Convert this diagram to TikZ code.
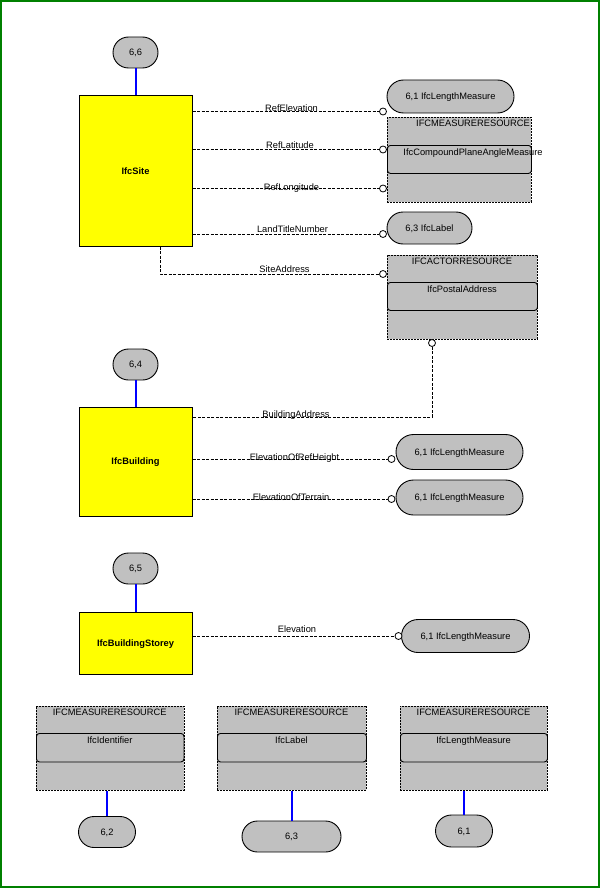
\documentclass[tikz,border=0pt]{standalone}
\usepackage{fontspec}
\usetikzlibrary{shapes.misc}
\setmainfont{Liberation Sans}
\definecolor{boxgray}{HTML}{C0C0C0}
\definecolor{entyellow}{HTML}{FFFF00}
\definecolor{linkblue}{HTML}{0000FF}
\definecolor{framegreen}{HTML}{008000}
\newcommand{\fsz}{\fontsize{9.3}{11}\selectfont}
\begin{document}
\begin{tikzpicture}[x=1pt,y=-1pt,
  every node/.style={inner sep=0pt, text height=6.7pt, text depth=0pt},
  ent/.style={draw=black, line width=1pt, fill=entyellow, font=\fsz\bfseries},
  oval/.style={rounded rectangle, draw=black, line width=0.9pt, fill=boxgray, font=\fsz},
  res/.style={draw=black, dash pattern=on 2pt off 1pt, line width=0.8pt, fill=boxgray, anchor=north west},
  inbox/.style={draw=black, line width=0.9pt, rounded corners=3pt, anchor=north west},
  txt/.style={font=\fsz},
  lbl/.style={font=\fsz},
  rel/.style={draw=black, line width=0.8pt, dash pattern=on 3pt off 1.5pt},
  link/.style={draw=linkblue, line width=2pt},
  endc/.style={circle, draw=black, fill=white, line width=0.8pt, minimum size=7pt, text height=0pt}
]
\useasboundingbox (0,0) rectangle (600,888);
\draw[framegreen, line width=2pt] (1,1) rectangle (599,887);

% entities
\node[ent, minimum width=113pt, minimum height=150pt] (site) at (135.5,171) {IfcSite};
\node[oval, minimum width=45pt, minimum height=31pt] (o66) at (135.5,52.5) {6,6};
\node[ent, minimum width=113pt, minimum height=109pt] (bld) at (135.5,461.5) {IfcBuilding};
\node[oval, minimum width=45pt, minimum height=31pt] (o64) at (135.5,364.5) {6,4};
\node[ent, minimum width=113pt, minimum height=62pt] (sto) at (135.5,643) {IfcBuildingStorey};
\node[oval, minimum width=45pt, minimum height=31pt] (o65) at (135.5,568.5) {6,5};

\draw[link] (o66.south) -- (site.north);
\draw[link] (o64.south) -- (bld.north);
\draw[link] (o65.south) -- (sto.north);

% right side targets
\node[oval, minimum width=127pt, minimum height=33pt] (otop) at (450.5,96.5) {6,1 IfcLengthMeasure};
\node[res, minimum width=144pt, minimum height=84.5pt] (mr1) at (387,117) {};
\node[inbox, minimum width=144pt, minimum height=28pt] (mr1i) at (387,145) {};
\node[txt] (mr1h) at (473,123) {IFCMEASURERESOURCE};
\node[txt] (mr1t) at (473,151.7) {IfcCompoundPlaneAngleMeasure};
\node[oval, minimum width=85pt, minimum height=32pt] (olab) at (429.5,228) {6,3 IfcLabel};
\node[res, minimum width=150pt, minimum height=84pt] (ar) at (387,255) {};
\node[inbox, minimum width=150pt, minimum height=28pt] (ari) at (387,282) {};
\node[txt] (arh) at (462,261) {IFCACTORRESOURCE};
\node[txt] (art) at (462,289) {IfcPostalAddress};

\node[oval, minimum width=127pt, minimum height=35pt] (ob1) at (459.5,452) {6,1 IfcLengthMeasure};
\node[oval, minimum width=127pt, minimum height=35pt] (ob2) at (459.5,497.5) {6,1 IfcLengthMeasure};
\node[oval, minimum width=128pt, minimum height=33pt] (os) at (465.5,636) {6,1 IfcLengthMeasure};

% end circles
\node[endc] (c1) at (383,111.5) {};
\node[endc] (c2) at (383,149.5) {};
\node[endc] (c3) at (383,188.5) {};
\node[endc] (c4) at (383,234) {};
\node[endc] (c5) at (383,274) {};
\node[endc] (c6) at (432,343) {};
\node[endc] (c7) at (391.5,459) {};
\node[endc] (c8) at (391.5,499) {};
\node[endc] (c9) at (398.5,636) {};
\coordinate (sa) at (160,274);
\coordinate (ba) at (432,417);

% relations
\draw[rel] (site.east |- c1) -- (c1.west);
\draw[rel] (site.east |- c2) -- (c2.west);
\draw[rel] (site.east |- c3) -- (c3.west);
\draw[rel] (site.east |- c4) -- (c4.west);
\draw[rel] (site.south -| sa) -- (sa) -- (c5.west);
\draw[rel] (c6.south) -- (ba) -- (bld.east |- ba);
\draw[rel] (bld.east |- c7) -- (c7.west);
\draw[rel] (bld.east |- c8) -- (c8.west);
\draw[rel] (sto.east |- c9) -- (c9.west);

\node[lbl] (l1) at (291.5,108.3) {RefElevation};
\node[lbl] (l2) at (290,144.7) {RefLatitude};
\node[lbl] (l3) at (291.5,187) {RefLongitude};
\node[lbl] (l4) at (292.5,229) {LandTitleNumber};
\node[lbl] (l5) at (284.5,269) {SiteAddress};
\node[lbl] (l6) at (296,414) {BuildingAddress};
\node[lbl] (l7) at (294.5,456.7) {ElevationOfRefHeight};
\node[lbl] (l8) at (291,496.7) {ElevationOfTerrain};
\node[lbl] (l9) at (297,629.5) {Elevation};

% bottom resource boxes
\node[res, minimum width=147.5pt, minimum height=84.5pt] (mb1) at (36,705.5) {};
\node[inbox, minimum width=147.5pt, minimum height=28.5pt] (mb1i) at (36,733) {};
\node[txt] (mb1h) at (109.75,711.7) {IFCMEASURERESOURCE};
\node[txt] (mb1t) at (109.75,740) {IfcIdentifier};
\node[oval, minimum width=57pt, minimum height=31pt] (o62) at (107,832) {6,2};
\draw[link] (o62.north |- mb1.south) -- (o62.north);

\node[res, minimum width=149pt, minimum height=84.5pt] (mb2) at (217,705.5) {};
\node[inbox, minimum width=149pt, minimum height=28.5pt] (mb2i) at (217,733) {};
\node[txt] (mb2h) at (291.5,711.7) {IFCMEASURERESOURCE};
\node[txt] (mb2t) at (291.5,740) {IfcLabel};
\node[oval, minimum width=99pt, minimum height=31pt] (o63) at (291.5,836.5) {6,3};
\draw[link] (o63.north |- mb2.south) -- (o63.north);

\node[res, minimum width=147pt, minimum height=84.5pt] (mb3) at (400,705.5) {};
\node[inbox, minimum width=147pt, minimum height=28.5pt] (mb3i) at (400,733) {};
\node[txt] (mb3h) at (473.5,711.7) {IFCMEASURERESOURCE};
\node[txt] (mb3t) at (473.5,740) {IfcLengthMeasure};
\node[oval, minimum width=57pt, minimum height=32pt] (o61) at (464,831) {6,1};
\draw[link] (o61.north |- mb3.south) -- (o61.north);
\end{tikzpicture}
\end{document}
